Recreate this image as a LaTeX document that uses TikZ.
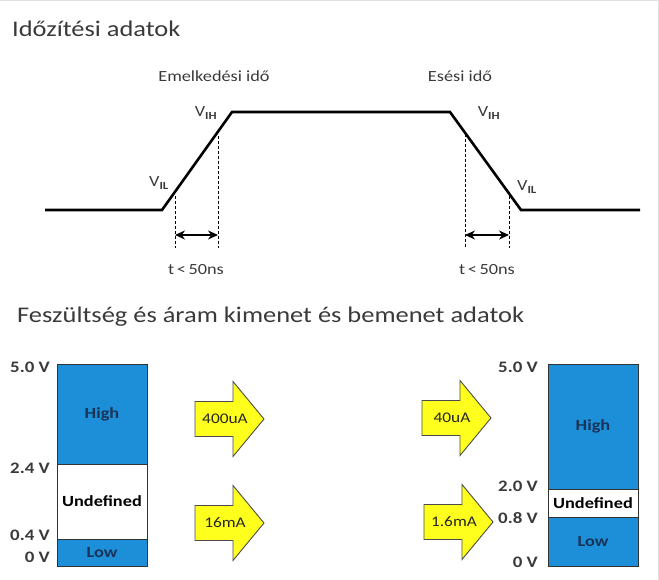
\documentclass[tikz,border=0pt]{standalone}
\usepackage{fontspec}
\setmainfont[FakeStretch=1.18]{Carlito}
\usetikzlibrary{arrows.meta,positioning}

\definecolor{barblue}{HTML}{1C8FD8}
\definecolor{labelnavy}{HTML}{1A3358}
\definecolor{ampyellow}{HTML}{FFFF1E}
\definecolor{textgray}{HTML}{3A3A3A}

% yellow current arrow: left end x, mid y, label, name
\newcommand{\ampArrow}[4]{%
  \draw[amparrow] (#1,#2) ++(0,-17.5) -- ++(38,0) -- ++(0,-20) -- ++(31,37.5)
    -- ++(-31,37.5) -- ++(0,-20) -- ++(-38,0) -- cycle;
  \node[amplabel] (#4) at (#1,#2) [xshift=30pt] {#3};
}

\begin{document}
\begin{tikzpicture}[x=1pt, y=-1pt,
    title/.style={anchor=base west, inner sep=0pt, text=textgray, font=\fontsize{22.4}{26}\selectfont},
    lbl/.style={text=textgray, font=\fontsize{15.5}{18}\selectfont},
    wave/.style={line width=2.6pt, line join=miter},
    guide/.style={densely dashed, line width=0.7pt},
    span/.style={{Stealth[length=10pt,width=9pt]}-{Stealth[length=10pt,width=9pt]}, line width=1.2pt},
    volt/.style={anchor=east, inner sep=0pt, text=textgray, font=\bfseries\fontsize{16}{18}\selectfont},
    seg/.style={draw=black!80, line width=0.9pt, minimum width=90pt, inner sep=0pt, outer sep=0pt,
                font=\bfseries\fontsize{15.5}{18}\selectfont},
    amparrow/.style={draw=black!70, line width=0.9pt, fill=ampyellow, line join=miter},
    amplabel/.style={inner sep=0pt, text=black!85, font=\fontsize{14.7}{17}\selectfont}]

  \useasboundingbox (0,0) rectangle (659,580);
  \draw[black!12, line width=1pt] (0,0.5) -- (658,0.5) -- (658,580);

  % timing
  \node[title] (ttime) at (12,37) {Időzítési adatok};

  \coordinate (w0) at (45,210);
  \coordinate (w1) at (162,210);
  \coordinate (w2) at (232,112);
  \coordinate (w3) at (450,112);
  \coordinate (w4) at (521,210);
  \coordinate (w5) at (640,210);
  \draw[wave] (w0) -- (w1) -- (w2) -- (w3) -- (w4) -- (w5);

  \node[lbl] (rise) at (214,76) {Emelkedési idő};
  \node[lbl] (fall) at (460,76) {Esési idő};
  \node[lbl] (ril) at (159,183) {V\textsubscript{\bfseries IL}};
  \node[lbl] (rih) at (206,113) {V\textsubscript{\bfseries IH}};
  \node[lbl] (fih) at (489,113) {V\textsubscript{\bfseries IH}};
  \node[lbl] (fil) at (527,187) {V\textsubscript{\bfseries IL}};

  \coordinate (ra) at (175,196);
  \coordinate (rb) at (218,136);
  \coordinate (fa) at (465,134);
  \coordinate (fb) at (509,196);
  \draw[guide] (ra) -- (175,248);
  \draw[guide] (rb) -- (218,248);
  \draw[guide] (fa) -- (465,248);
  \draw[guide] (fb) -- (509,248);
  \coordinate (ra1) at (175,235);
  \coordinate (rb1) at (218,235);
  \coordinate (fa1) at (465,235);
  \coordinate (fb1) at (509,235);
  \draw[span] (ra1) -- (rb1);
  \draw[span] (fa1) -- (fb1);
  \node[lbl] (rt) at (196,270) {t\,<\,50ns};
  \node[lbl] (ft) at (487,270) {t\,<\,50ns};

  % levels
  \node[title] (tlevel) at (17,322) {Feszültség és áram kimenet és bemenet adatok};

  \node[seg, fill=barblue, text=labelnavy, minimum height=100pt] (outhigh) at (102,414) {High};
  \node[seg, fill=white, minimum height=75pt, below=0pt of outhigh] (outund) {Undefined};
  \node[seg, fill=barblue, text=labelnavy, minimum height=27pt, below=0pt of outund] (outlow) {Low};

  \node[seg, fill=barblue, text=labelnavy, minimum height=125pt] (inhigh) at (593,426.5) {High};
  \node[seg, fill=white, minimum height=28pt, below=0pt of inhigh] (inund) {Undefined};
  \node[seg, fill=barblue, text=labelnavy, minimum height=49pt, below=0pt of inund] (inlow) {Low};

  \node[volt] (o50) at (50,367) {5.0 V};
  \node[volt] (o24) at (50,468) {2.4 V};
  \node[volt] (o04) at (50,535) {0.4 V};
  \node[volt] (o00) at (50,557) {0 V};

  \node[volt] (i50) at (538,367) {5.0 V};
  \node[volt] (i20) at (538,486) {2.0 V};
  \node[volt] (i08) at (538,518) {0.8 V};
  \node[volt] (i00) at (538,562) {0 V};

  \ampArrow{195}{419}{400uA}{ohcur}
  \ampArrow{195}{523}{16mA}{olcur}
  \ampArrow{422}{418}{40uA}{ihcur}
  \ampArrow{424}{522}{1.6mA}{ilcur}
\end{tikzpicture}
\end{document}
